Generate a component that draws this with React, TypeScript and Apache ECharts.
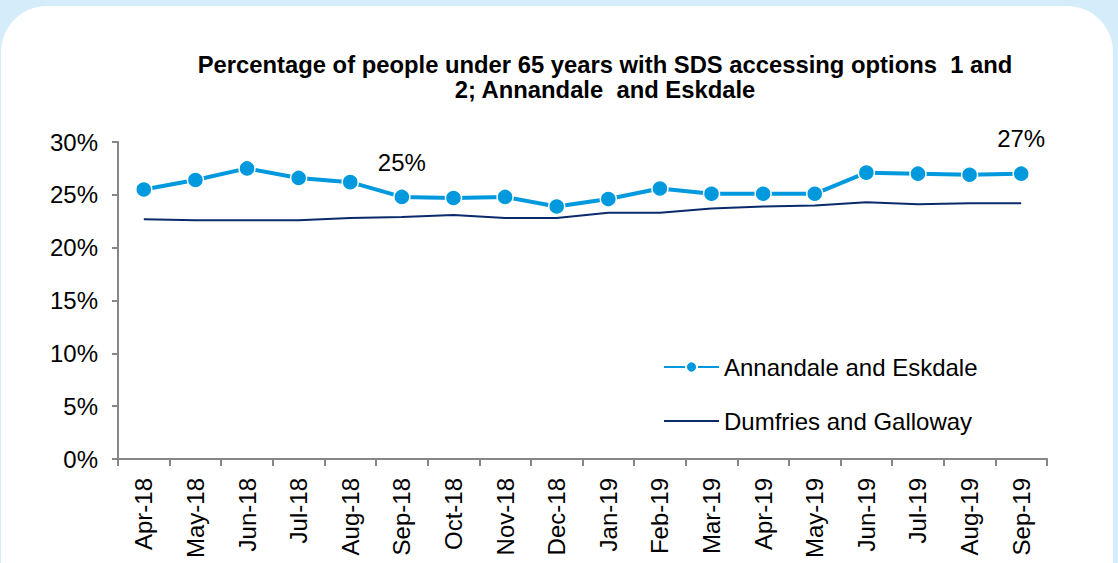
import React, { useEffect, useRef } from "react";
import * as echarts from "echarts";

const categories = [
  "Apr-18", "May-18", "Jun-18", "Jul-18", "Aug-18", "Sep-18", "Oct-18", "Nov-18", "Dec-18",
  "Jan-19", "Feb-19", "Mar-19", "Apr-19", "May-19", "Jun-19", "Jul-19", "Aug-19", "Sep-19",
];
const annandale = [
  25.5, 26.4, 27.5, 26.6, 26.2, 24.8, 24.7, 24.8, 23.9,
  24.6, 25.6, 25.1, 25.1, 25.1, 27.1, 27.0, 26.9, 27.0,
];
const dumfries = [
  22.7, 22.6, 22.6, 22.6, 22.8, 22.9, 23.1, 22.8, 22.8,
  23.3, 23.3, 23.7, 23.9, 24.0, 24.3, 24.1, 24.2, 24.2,
];
const labelledIndices = [5, 17];
const yTicks = [0, 5, 10, 15, 20, 25, 30];
const titleText =
  "Percentage of people under 65 years with SDS accessing options  1 and\n2; Annandale  and Eskdale";

const FONT = "'Liberation Sans', Arial, sans-serif";

export default function App() {
  const ref = useRef<HTMLDivElement>(null);
  useEffect(() => {
    if (!ref.current) return;
    const chart = echarts.init(ref.current, undefined, { renderer: "svg" });
    const annData = annandale.map((v, i) =>
      labelledIndices.includes(i)
        ? {
            value: v,
            label: {
              show: true,
              position: "top",
              distance: 14,
              formatter: (p: any) => Math.round(p.value) + "%",
              fontSize: 24,
              color: "#000",
              fontFamily: FONT,
            },
          }
        : v
    );
    chart.setOption({
      animation: false,
      backgroundColor: "transparent",
      title: {
        text: titleText,
        left: 600,
        top: 47,
        textAlign: "center",
        textStyle: {
          fontFamily: FONT,
          fontWeight: "bold",
          fontSize: 23.8,
          lineHeight: 25,
          color: "#000",
        },
      },
      legend: {
        orient: "vertical",
        left: 658,
        top: 350,
        itemWidth: 55,
        itemHeight: 14,
        itemGap: 30,
        textStyle: { fontFamily: FONT, fontSize: 24, color: "#000" },
        data: [
          { name: "Annandale and Eskdale" },
          {
            name: "Dumfries and Galloway",
            itemStyle: { color: "transparent", borderColor: "transparent", opacity: 0 },
          },
        ],
      },
      grid: { left: 118, right: 71, top: 142, bottom: 104, containLabel: false },
      xAxis: {
        type: "category",
        data: categories,
        boundaryGap: true,
        axisLine: { lineStyle: { color: "#868686", width: 2 } },
        axisTick: { show: true, length: 7, lineStyle: { color: "#868686", width: 2 } },
        axisLabel: {
          rotate: 90,
          margin: 19,
          fontSize: 24,
          color: "#000",
          fontFamily: FONT,
        },
      },
      yAxis: {
        type: "value",
        min: 0,
        max: 30,
        interval: 5,
        splitLine: { show: false },
        axisLine: { show: true, lineStyle: { color: "#868686", width: 2 } },
        axisTick: { show: true, length: 6, lineStyle: { color: "#868686", width: 2 } },
        axisLabel: {
          margin: 20,
          fontSize: 24,
          color: "#000",
          fontFamily: FONT,
          formatter: (v: number) => (yTicks.includes(v) ? v + "%" : ""),
        },
      },
      series: [
        {
          name: "Annandale and Eskdale",
          type: "line",
          data: annData,
          symbol: "circle",
          symbolSize: 16,
          lineStyle: { color: "#0099DD", width: 4 },
          itemStyle: { color: "#0099DD", borderColor: "#fff", borderWidth: 1.5 },
          z: 3,
        },
        {
          name: "Dumfries and Galloway",
          type: "line",
          data: dumfries,
          symbol: "none",
          lineStyle: { color: "#0B2A6B", width: 2 },
          itemStyle: { color: "#0B2A6B" },
          z: 2,
        },
      ],
    });
    return () => chart.dispose();
  }, []);

  return (
    <div
      style={{
        position: "absolute",
        left: 0,
        top: 0,
        width: 1118,
        height: 563,
        background: "#D5EDFA",
        overflow: "hidden",
      }}
    >
      <div
        style={{
          position: "absolute",
          left: 1,
          top: 6,
          width: 1112,
          height: 620,
          background: "#ffffff",
          borderRadius: 46,
        }}
      />
      <div ref={ref} style={{ position: "absolute", left: 0, top: 0, width: 1118, height: 563 }} />
    </div>
  );
}
